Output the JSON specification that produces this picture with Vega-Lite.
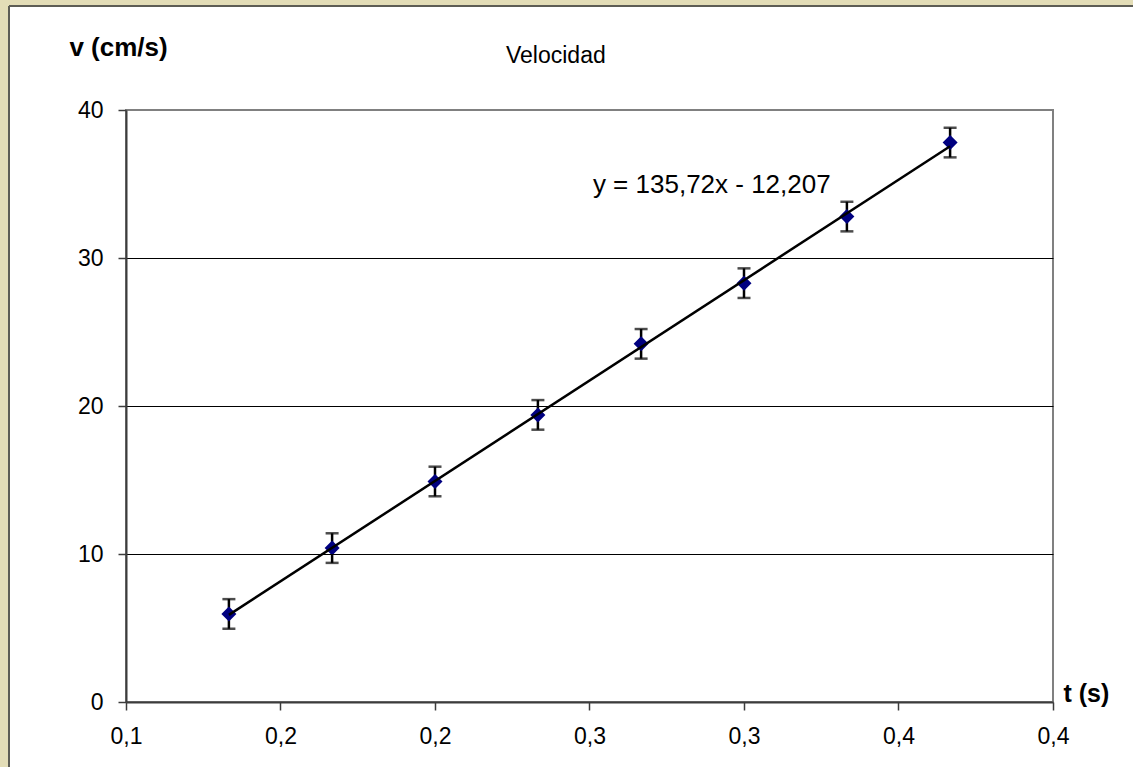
{
  "$schema": "https://vega.github.io/schema/vega-lite/v6.json",
  "width": 1124,
  "height": 761,
  "autosize": {"type": "none"},
  "padding": {"left": 9, "top": 6, "right": 0, "bottom": 0},
  "background": "#e3ddb7",
  "title": {
    "text": "Velocidad",
    "anchor": "start",
    "frame": "group",
    "orient": "top",
    "offset": -80,
    "dx": 497,
    "baseline": "alphabetic",
    "font": "Liberation Sans",
    "fontSize": 23,
    "fontWeight": "normal",
    "color": "black"
  },
  "config": {
    "font": "Liberation Sans",
    "view": {
      "fill": "white",
      "stroke": "#5d5d55",
      "strokeWidth": 2,
      "strokeDash": [1124, 1885, 761, 0]
    }
  },
  "datasets": {
    "medidas": [
      {"t": 0.1333, "v": 5.95, "err": 1},
      {"t": 0.1667, "v": 10.4, "err": 1},
      {"t": 0.2, "v": 14.9, "err": 1},
      {"t": 0.2333, "v": 19.4, "err": 1},
      {"t": 0.2667, "v": 24.2, "err": 1},
      {"t": 0.3, "v": 28.3, "err": 1},
      {"t": 0.3333, "v": 32.8, "err": 1},
      {"t": 0.3667, "v": 37.8, "err": 1}
    ],
    "marco": [
      {"t0": 0.1, "t1": 0.4, "v0": 0, "v1": 40}
    ],
    "ecuacion": [
      {"t": 0.2511, "v": 34.37, "texto": "y = 135,72x - 12,207"}
    ]
  },
  "data": {"name": "medidas"},
  "encoding": {
    "x": {
      "field": "t",
      "type": "quantitative",
      "scale": {"domain": [0.1, 0.4], "range": [117, 1044], "nice": false, "zero": false},
      "axis": {
        "orient": "bottom",
        "offset": -65,
        "values": [0.1, 0.15, 0.2, 0.25, 0.3, 0.35, 0.4],
        "labelExpr": "replace(format(datum.value + 0.0001, '.1f'), '.', ',')",
        "grid": false,
        "domainColor": "#3c3c3c",
        "domainWidth": 2,
        "tickColor": "#3c3c3c",
        "tickWidth": 1.5,
        "tickSize": 8,
        "labelFont": "Liberation Sans",
        "labelFontSize": 23,
        "labelColor": "black",
        "labelPadding": 15,
        "labelFlush": false,
        "labelOverlap": false,
        "title": "t (s)",
        "titleFont": "Liberation Sans",
        "titleFontSize": 25,
        "titleFontWeight": "bold",
        "titleColor": "black",
        "titleAlign": "left",
        "titleBaseline": "alphabetic",
        "titleX": 1054,
        "titleY": -1,
        "zindex": 1
      }
    },
    "y": {
      "field": "v",
      "type": "quantitative",
      "scale": {"domain": [0, 40], "range": [696, 104], "nice": false},
      "axis": {
        "orient": "left",
        "offset": -117,
        "values": [0, 10, 20, 30, 40],
        "format": "d",
        "grid": true,
        "gridColor": "black",
        "gridWidth": 1,
        "gridOpacity": {"condition": {"test": "datum.value === 0 || datum.value === 40", "value": 0}, "value": 1},
        "domainColor": "#3c3c3c",
        "domainWidth": 2,
        "tickColor": "#3c3c3c",
        "tickWidth": 1.5,
        "tickSize": 8,
        "labelFont": "Liberation Sans",
        "labelFontSize": 23,
        "labelColor": "black",
        "labelPadding": 15,
        "labelFlush": false,
        "labelOverlap": false,
        "title": "v (cm/s)",
        "titleFont": "Liberation Sans",
        "titleFontSize": 26,
        "titleFontWeight": "bold",
        "titleColor": "black",
        "titleAngle": 0,
        "titleAlign": "center",
        "titleBaseline": "alphabetic",
        "titleX": -8,
        "titleY": 49,
        "zindex": 1
      }
    }
  },
  "layer": [
    {
      "data": {"name": "marco"},
      "mark": {"type": "rect", "filled": false, "stroke": "#808080", "strokeWidth": 2},
      "encoding": {
        "x": {"field": "t0", "type": "quantitative"},
        "x2": {"field": "t1"},
        "y": {"field": "v0", "type": "quantitative"},
        "y2": {"field": "v1"}
      }
    },
    {
      "mark": {
        "type": "errorbar",
        "size": 13,
        "thickness": 2.5,
        "ticks": {"size": 13, "thickness": 2.5, "color": "black"},
        "rule": {"strokeWidth": 2.5, "color": "black"},
        "color": "black"
      },
      "encoding": {
        "yError": {"field": "err"}
      }
    },
    {
      "mark": {"type": "point", "shape": "diamond", "filled": true, "size": 225, "color": "#000080", "opacity": 1}
    },
    {
      "transform": [{"regression": "v", "on": "t"}],
      "mark": {"type": "line", "color": "black", "strokeWidth": 2.5}
    },
    {
      "data": {"name": "ecuacion"},
      "mark": {"type": "text", "align": "left", "baseline": "alphabetic", "font": "Liberation Sans", "fontSize": 26, "color": "black"},
      "encoding": {
        "text": {"field": "texto"}
      }
    }
  ]
}
